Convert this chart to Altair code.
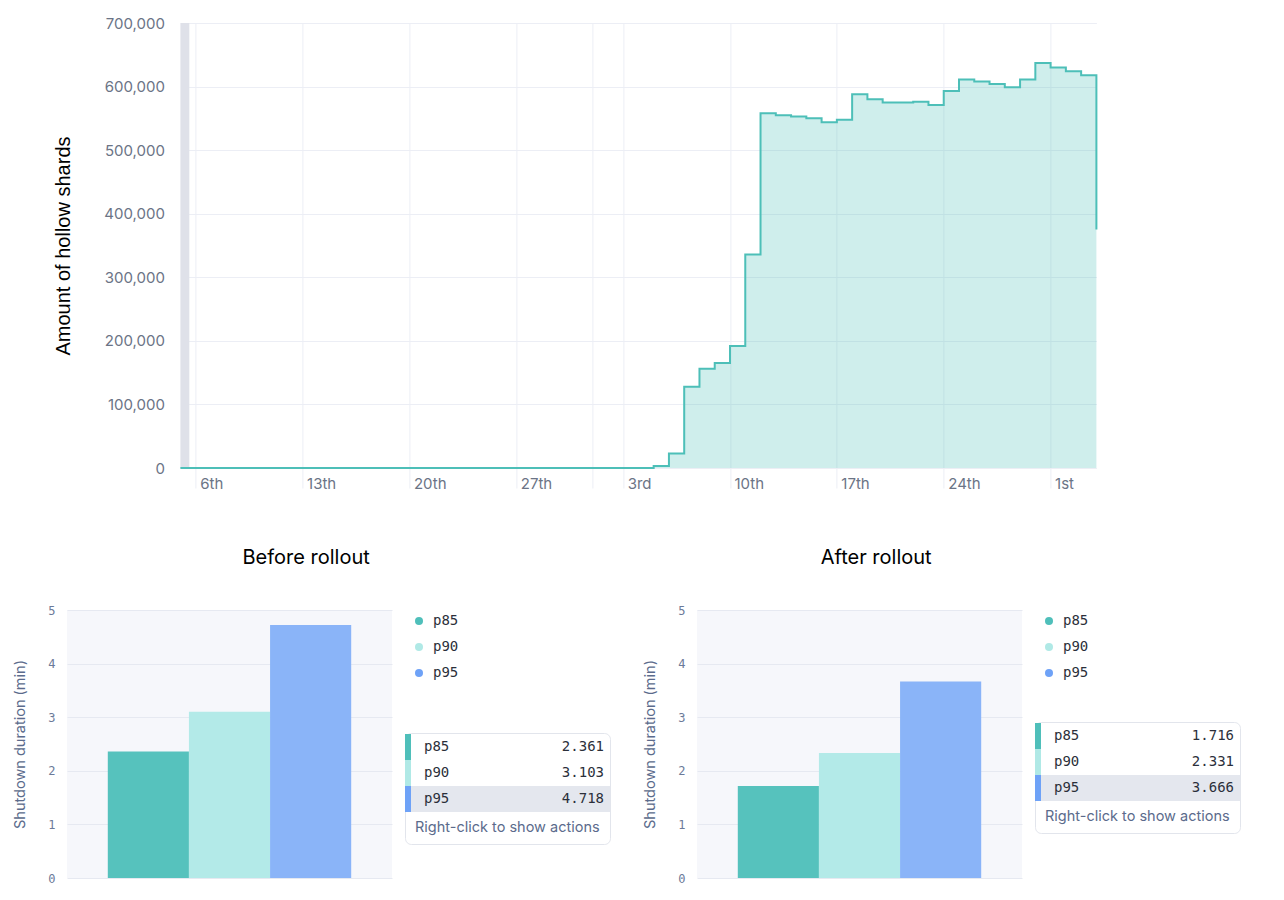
import altair as alt
import pandas as pd

TEAL = '#4dbfb8'
GRID = '#eceef5'
LABEL = '#6b7486'

# top chart: amount of hollow shards per day (step series)
shard_dates = ['2023-03-05', '2023-04-05', '2023-04-06', '2023-04-07', '2023-04-08',
               '2023-04-09', '2023-04-10', '2023-04-11', '2023-04-12', '2023-04-13',
               '2023-04-14', '2023-04-15', '2023-04-16', '2023-04-17', '2023-04-18',
               '2023-04-19', '2023-04-20', '2023-04-21', '2023-04-22', '2023-04-23',
               '2023-04-24', '2023-04-25', '2023-04-26', '2023-04-27', '2023-04-28',
               '2023-04-29', '2023-04-30', '2023-05-01', '2023-05-02', '2023-05-03',
               '2023-05-04']
shard_counts = [0, 3000, 23000, 128000, 156000, 165000, 192000, 336000, 558000, 555000,
                553000, 550000, 544000, 548000, 588000, 580000, 575000, 575000, 576000, 571000,
                593000, 611000, 608000, 604000, 599000, 611000, 637000, 630000, 624000, 618000,
                375000]
# weekly ticks (plus the unlabelled month start)
tick_days = [(3, 6), (3, 13), (3, 20), (3, 27), (4, 1), (4, 3), (4, 10), (4, 17), (4, 24), (5, 1)]
# grey brush band on the left edge
band_start = ['2023-03-05T00:00:00Z']
band_end = ['2023-03-05T14:00:00Z']

# bottom charts: shutdown duration percentiles
pcts = ['p85', 'p90', 'p95']
before_vals = [2.361, 3.103, 4.718]
after_vals = [1.716, 2.331, 3.666]
bar_colors = ['#56c2bd', '#b3eae8', '#8ab4f8']
dot_colors = ['#4fbfba', '#b0e9e6', '#6ea2f7']

MONO = 'DejaVu Sans Mono'


def utc(m, d):
    return alt.DateTime(year=2023, month=m, date=d, utc=True)


shards = pd.DataFrame({'date': shard_dates, 'count': shard_counts})

suffix = ("(indexof([1, 21, 31], utcdate(datum.value)) >= 0 ? 'st' : "
          "indexof([2, 22], utcdate(datum.value)) >= 0 ? 'nd' : "
          "indexof([3, 23], utcdate(datum.value)) >= 0 ? 'rd' : 'th')")
label_expr = ("(utcmonth(datum.value) == 3 && utcdate(datum.value) == 1) ? '' : "
              "utcdate(datum.value) + " + suffix)

x_scale = alt.Scale(type='utc', domain=[utc(3, 5), utc(5, 4)])

area = alt.Chart(shards).mark_area(
    interpolate='step-after', fill=TEAL, fillOpacity=0.27,
    line={'color': TEAL, 'strokeWidth': 2}
).encode(
    x=alt.X('date:T', scale=x_scale, axis=alt.Axis(
        values=[utc(m, d) for m, d in tick_days], labelExpr=label_expr,
        labelAlign='left', labelBaseline='top', labelOffset=4, labelPadding=-12,
        labelOverlap=False, labelFlush=False,
        labelFont='Inter', labelFontSize=15, labelColor=LABEL,
        tickSize=20, tickColor=GRID, domain=False, gridColor=GRID, title=None)),
    y=alt.Y('count:Q', scale=alt.Scale(domain=[0, 700000]), axis=alt.Axis(
        values=list(range(0, 700001, 100000)), format=',d',
        labelFont='Inter', labelFontSize=15, labelColor=LABEL, labelPadding=16,
        ticks=False, domain=False, gridColor=GRID,
        title='Amount of hollow shards', titleFont='Liberation Sans', titleFontSize=20,
        titleColor='black', titleFontWeight='normal', titlePadding=30))
)

band = alt.Chart(pd.DataFrame({'start': band_start, 'end': band_end})).mark_rect(
    color='#dfe1e9'
).encode(x='start:T', x2='end:T', y=alt.value(0), y2=alt.value(445))

top = alt.layer(band, area).properties(width=916, height=445)

# tiny invisible view: concat lines up plot origins, this shifts the top plot right
spacer = alt.Chart(pd.DataFrame({'s': [0]})).mark_rule(strokeOpacity=0).encode(
    x=alt.value(0), y=alt.value(0), y2=alt.value(1)
).properties(width=1, height=1)

top_row = alt.hconcat(spacer, top, spacing=-14.6)


def panel(title, values, gap, dx):
    df = pd.DataFrame({'pct': pcts, 'value': values, 'group': 'all'})

    bars = alt.Chart(df).mark_bar().encode(
        x=alt.X('group:N', scale=alt.Scale(paddingOuter=0.1676, paddingInner=0),
                axis=alt.Axis(labels=False, ticks=False, domain=False, title=None,
                              gridColor='#e6e9f1')),
        xOffset=alt.XOffset('pct:N', sort=pcts),
        y=alt.Y('value:Q', scale=alt.Scale(domain=[0, 5]), axis=alt.Axis(
            values=[0, 1, 2, 3, 4, 5], labelFont=MONO, labelFontSize=12,
            labelColor='#6b7a99', labelPadding=12, ticks=False, domain=False,
            gridColor='#e6e9f1', title='Shutdown duration (min)', titleFont='Inter',
            titleFontSize=14.5, titleColor='#5b6b8c', titleFontWeight='normal',
            titlePadding=20)),
        color=alt.Color('pct:N', scale=alt.Scale(domain=pcts, range=bar_colors), legend=None)
    ).properties(width=325, height=268,
                 view=alt.ViewBackground(fill='#f6f7fb', strokeWidth=0))

    dot_color = alt.Color('pct:N', scale=alt.Scale(domain=pcts, range=dot_colors), legend=None)

    leg_base = alt.Chart(df).encode(
        y=alt.Y('pct:N', sort=pcts, axis=None, scale=alt.Scale(range=[-2, 76])))
    legend = alt.layer(
        leg_base.mark_circle(size=64, opacity=1).encode(x=alt.value(14), color=dot_color),
        leg_base.mark_text(align='left', font=MONO, fontSize=14, color='#2b2f3a').encode(
            x=alt.value(28), text='pct:N'),
    ).properties(width=205, height=72, view=alt.ViewBackground(strokeWidth=0))

    tt_base = alt.Chart(df).encode(
        y=alt.Y('pct:N', sort=pcts, axis=None, scale=alt.Scale(range=[1, 79])))
    footer = alt.Chart(pd.DataFrame({'t': ['Right-click to show actions']})).mark_text(
        align='left', font='Inter', fontSize=14.5, color='#5b6b8c'
    ).encode(x=alt.value(10), y=alt.value(95), text='t:N')
    tooltip = alt.layer(
        tt_base.mark_rect(color='#e4e7ee').encode(x=alt.value(0), x2=alt.value(205))
        .transform_filter("datum.pct == 'p95'"),
        tt_base.mark_rect().encode(x=alt.value(0), x2=alt.value(6), color=dot_color),
        tt_base.mark_text(align='left', font=MONO, fontSize=14, color='#2b2f3a').encode(
            x=alt.value(19), text='pct:N'),
        tt_base.mark_text(align='right', font=MONO, fontSize=14, color='#2b2f3a').encode(
            x=alt.value(199), text=alt.Text('value:Q', format='.3f')),
        footer,
    ).properties(width=205, height=111, view=alt.ViewBackground(
        fill='white', stroke='#e2e5ec', strokeWidth=1, cornerRadius=6))

    side = alt.vconcat(legend, tooltip, spacing=gap).resolve_scale(color='independent', y='independent')
    return alt.hconcat(bars, side, spacing=12).resolve_scale(
        color='independent', y='independent'
    ).properties(title=alt.TitleParams(
        title, font='Inter', fontSize=20, color='black', fontWeight='normal',
        anchor='middle', dx=dx, offset=36))


left = panel('Before rollout', before_vals, 50, -5.5)
right = panel('After rollout', after_vals, 39, -65.5)

bottom = alt.hconcat(left, right, spacing=31).resolve_scale(color='independent', y='independent')

chart = alt.vconcat(top_row, bottom, spacing=57).resolve_scale(
    color='independent', y='independent', x='independent'
).properties(
    padding={'left': 4, 'top': 8, 'right': 5, 'bottom': 5}, background='white'
).configure_view(strokeWidth=0)

chart.save("out.html", embed_options={"renderer": "svg", "actions": False})
